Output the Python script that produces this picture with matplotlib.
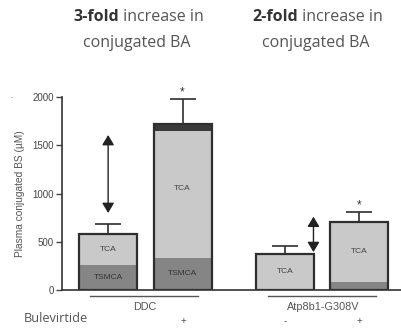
import matplotlib
matplotlib.use("Agg")
import matplotlib.pyplot as plt
import numpy as np

plt.rcParams['font.family'] = ['Open Sans', 'DejaVu Sans']
AX_FONT = ['Liberation Sans', 'DejaVu Sans']

groups = ["DDC", "Atp8b1-G308V"]
treatment = ["-", "+", "-", "+"]
tsmca = [260, 335, 10, 80]
tca = [320, 1315, 363, 628]
other = [0, 70, 0, 0]
err = [104, 256, 87, 97]
yticks = [0, 500, 1000, 1500, 2000]
titles_bold = ["3-fold", "2-fold"]

pos = np.array([0.0, 1.0, 2.38, 3.37])
w = 0.78

fig = plt.figure(figsize=(4.02, 3.29), dpi=100)
ax = fig.add_axes([62/402, (329-290)/329, (402-62)/402, (290-97)/329])

c_tca = "#c9c9c9"
c_ts = "#858585"
c_oth = "#3a3a3a"
edge = "#2e2e2e"

tsmca_a = np.array(tsmca); tca_a = np.array(tca); oth_a = np.array(other)
ax.bar(pos, tsmca_a, w, color=c_ts, linewidth=0)
ax.bar(pos, tca_a, w, bottom=tsmca_a, color=c_tca, linewidth=0)
ax.bar(pos, oth_a, w, bottom=tsmca_a + tca_a, color=c_oth, linewidth=0)
tot = tsmca_a + tca_a + oth_a
ax.bar(pos, tot, w, fill=False, edgecolor=edge, linewidth=1.6)
ax.errorbar(pos, tot, yerr=[np.zeros(4), np.array(err)], fmt='none',
            ecolor=edge, elinewidth=1.2, capsize=9.5, capthick=1.2, clip_on=False)

for i in range(4):
    ax.text(pos[i], tsmca_a[i] + tca_a[i] / 2 + (60 if i == 1 else 0), "TCA",
            ha='center', va='center', fontsize=6, color="#444444", family=AX_FONT)
    if tsmca_a[i] > 150:
        ax.text(pos[i], tsmca_a[i] / 2, "TSMCA", ha='center', va='center',
                fontsize=6, color="#333333", family=AX_FONT)
    if treatment[i] == "+":
        ax.text(pos[i], tot[i] + err[i] + 70, "*", ha='center', va='center',
                fontsize=8.5, color="#333333", clip_on=False, family=AX_FONT)

# double arrows
astyle = '<|-|>,head_length=0.5,head_width=0.3'
ax.annotate("", xy=(0, 1606), xytext=(0, 798),
            arrowprops=dict(arrowstyle=astyle, color='#222222', lw=1.0,
                            mutation_scale=12, shrinkA=0, shrinkB=0))
ax.annotate("", xy=(2.76, 760), xytext=(2.76, 393),
            arrowprops=dict(arrowstyle=astyle, color='#222222', lw=1.0,
                            mutation_scale=12, shrinkA=0, shrinkB=0))

ax.set_xlim(-0.62, 3.95)
ax.set_ylim(0, 2000)
ax.set_yticks(yticks)
ax.set_yticklabels([str(v) for v in yticks], fontsize=7, color="#555555", family=AX_FONT)
ax.tick_params(axis='y', length=4, width=1, colors="#444444", pad=2)
ax.set_xticks([])
for s in ['top', 'right']:
    ax.spines[s].set_visible(False)
ax.spines['left'].set_color("#333333")
ax.spines['bottom'].set_color("#333333")
ax.spines['left'].set_linewidth(1.2)
ax.spines['bottom'].set_linewidth(1.2)
ax.set_ylabel("Plasma conjugated BS (µM)", fontsize=7.3, color="#555555", labelpad=5,
              family=AX_FONT)

def fx(px): return px / 402
def fy(py): return (329 - py) / 329

fig.text(fx(12), fy(96), ".", ha='center', va='center', fontsize=6, color="#555555")

# group lines and labels (figure pixel coords)
for (x0, x1, lab, xc) in [(90, 198, groups[0], 145), (268, 376, groups[1], 323)]:
    fig.add_artist(plt.Line2D([fx(x0), fx(x1)], [fy(296), fy(296)], color="#555555", lw=1.0))
    fig.text(fx(xc), fy(307), lab, ha='center', va='center', fontsize=7.8, color="#555555",
             family=AX_FONT)
fig.text(fx(24), fy(319), "Bulevirtide", ha='left', va='center', fontsize=9.2, color="#555555")
for i, xc in enumerate([108, 183, 285, 359]):
    if i == 0:
        continue
    fig.text(fx(xc), fy(321), treatment[i], ha='center', va='center', fontsize=7,
             color="#555555", family=AX_FONT)

# titles
TS = 11.5
for xc, b in [(137, titles_bold[0]), (316, titles_bold[1])]:
    t1 = fig.text(fx(xc), fy(17), b + " increase in", ha='center', va='center',
                  fontsize=TS, color="#555555", alpha=0)
    fig.canvas.draw()
    bb = t1.get_window_extent()
    x0 = bb.x0
    tb = fig.text(x0 / 402, fy(17), b, ha='left', va='center', fontsize=TS,
                  color="#333333", fontweight='bold')
    fig.canvas.draw()
    bb2 = tb.get_window_extent()
    fig.text(bb2.x1 / 402, fy(17), " increase in", ha='left', va='center', fontsize=TS,
             color="#555555")
    fig.text(fx(xc), fy(43), "conjugated BA", ha='center', va='center', fontsize=TS,
             color="#555555")

fig.savefig("out.png", dpi=100)
